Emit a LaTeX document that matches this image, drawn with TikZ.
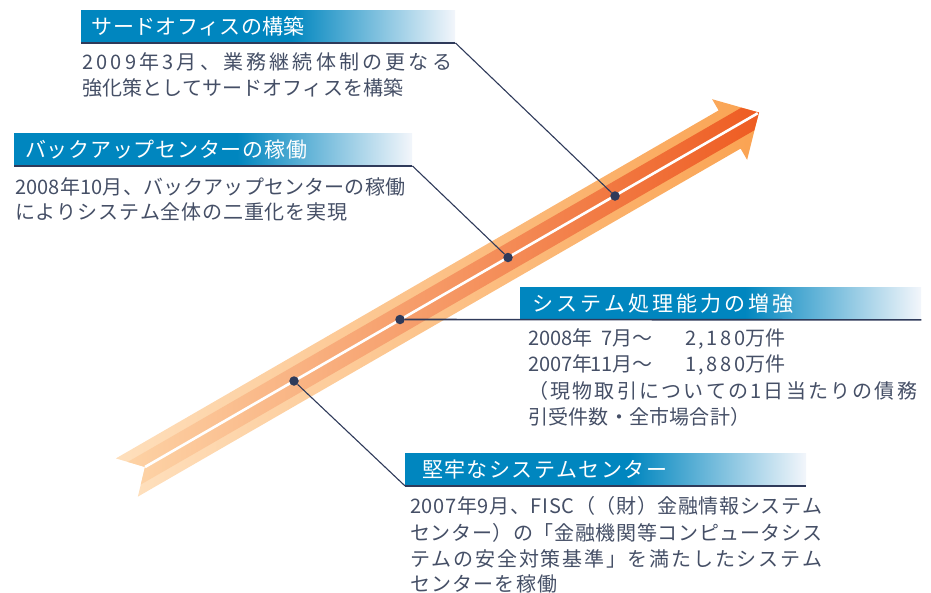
\documentclass[tikz,border=0pt]{standalone}
\usepackage{fontspec}
\newfontfamily\jp{Noto Sans CJK JP}
\definecolor{tblue}{HTML}{0086BF}
\definecolor{tfade}{HTML}{F3F6FB}
\definecolor{navy}{HTML}{2F3A5A}
\definecolor{bodytext}{HTML}{454F66}
\definecolor{aOutL}{HTML}{FEDFBC}
\definecolor{aOutM}{HTML}{FCBF82}
\definecolor{aOutR}{HTML}{FAA352}
\definecolor{aInL}{HTML}{FDD2A5}
\definecolor{aInM}{HTML}{F6A06C}
\definecolor{aInR}{HTML}{EE5C22}
\pgfdeclarehorizontalshading{titleshade}{100bp}{color(0bp)=(tblue); color(25bp)=(tblue); color(53bp)=(tblue); color(75bp)=(tfade); color(100bp)=(tfade)}
\ExplSyntaxOn
\cs_new_protected:Npn \fitline #1#2
  {
    \hbox_to_wd:nn {#1}
      {
        \tl_map_inline:nn {#2} { ##1 \hfil }
        \unskip
      }
  }
\ExplSyntaxOff
\begin{document}
\begin{tikzpicture}[x=1pt,y=-1pt,
  titlebox/.style={shading=titleshade, draw=none, inner sep=0pt, anchor=north west},
  ttext/.style={font=\jp\fontsize{21}{24}\selectfont, text=white, inner sep=0pt, anchor=west},
  btext/.style={font=\jp\fontsize{20}{24}\selectfont, text=bodytext, inner sep=0pt, anchor=base west},
  dot/.style={circle, fill=navy, inner sep=0pt, minimum size=9.5pt},
  uline/.style={draw=navy, line width=1.6pt},
  conn/.style={draw=navy, line width=1.1pt},
  outer/.style={left color=aOutL, middle color=aOutM, right color=aOutR},
  inner/.style={left color=aInL, middle color=aInM, right color=aInR}]
\useasboundingbox (0,0) rectangle (931,592);

% ---- arrow ----
\coordinate (tu) at (115.9,458.4);
\coordinate (tn) at (145,467);
\coordinate (tl) at (137.9,496.6);
\coordinate (bur) at (718.6,110.4);
\coordinate (bu) at (712.1,99.2);
\coordinate (tip) at (759,112.5);
\coordinate (bl) at (747.1,159.8);
\coordinate (blr) at (740.6,148.6);
\coordinate (iu0) at (127.8,461.9);
\coordinate (iu1) at (741.3,107.7);
\coordinate (il0) at (140.8,484.5);
\coordinate (il1) at (754.3,130.3);
\path[outer] (tn) -- (tu) -- (bur) -- (bu) -- (tip) -- cycle;
\path[outer] (tn) -- (tl) -- (blr) -- (bl) -- (tip) -- cycle;
\path[inner] (tn) -- (iu0) -- (iu1) -- (tip) -- cycle;
\path[inner] (tn) -- (il0) -- (il1) -- (tip) -- cycle;
\draw[white, line width=2.6pt, shorten >=1.5pt] (tn) -- (tip);

% ---- dots ----
\node[dot] (d1) at (615,196) {};
\node[dot] (d2) at (508,257.5) {};
\node[dot] (d3) at (400,319.5) {};
\node[dot] (d4) at (294,381) {};

% ---- box 1 ----
\node[titlebox, minimum width=374pt, minimum height=32.5pt] (b1) at (81,10) {};
\node[ttext] (t1) at (91.7,26.5) {\fitline{213pt}{サードオフィスの構築}};
\draw[uline] (b1.south west) -- (b1.south east);
\draw[conn] (b1.south east) -- (d1);
\node[btext] (l11) at (82,69.3) {\fitline{370pt}{2009年3月、業務継続体制の更なる}};
\node[btext] (l12) at (82,95.3) {\fitline{321pt}{強化策としてサードオフィスを構築}};

% ---- box 2 ----
\node[titlebox, minimum width=398pt, minimum height=32.2pt] (b2) at (14,133.3) {};
\node[ttext] (t2) at (25,149.5) {\fitline{282pt}{バックアップセンターの稼働}};
\draw[uline] (b2.south west) -- (b2.south east);
\draw[conn] (b2.south east) -- (d2);
\node[btext] (l21) at (15,194.3) {\fitline{390pt}{2008年10月、バックアップセンターの稼働}};
\node[btext] (l22) at (15,219.5) {\fitline{332pt}{によりシステム全体の二重化を実現}};

% ---- box 3 ----
\node[titlebox, minimum width=401pt, minimum height=32.5pt] (b3) at (520,287) {};
\node[ttext] (t3) at (532,303.5) {\fitline{261pt}{システム処理能力の増強}};
\draw[uline] (d3) -- (b3.south east);
\node[btext] (l31) at (528,345.6) {\hbox{\fitline{44pt}{2008}年\makebox[20pt][r]{7}月～\hspace{33pt}\fitline{60pt}{2,180}万件}};
\node[btext] (l32) at (528,371.9) {\hbox{\fitline{44pt}{2007}年\makebox[20pt][r]{11}月～\hspace{33pt}\fitline{60pt}{1,880}万件}};
\node[btext] (l33) at (528,398.2) {\fitline{389pt}{（現物取引についての1日当たりの債務}};
\node[btext] (l34) at (528,424.5) {\fitline{222pt}{引受件数・全市場合計）}};

% ---- box 4 ----
\node[titlebox, minimum width=401pt, minimum height=32.5pt] (b4) at (405,453) {};
\node[ttext] (t4) at (422,469.5) {\fitline{245pt}{堅牢なシステムセンター}};
\draw[uline] (b4.south west) -- (b4.south east);
\draw[conn] (d4) -- (b4.south west);
\node[btext] (l41) at (410,513.6) {\fitline{412pt}{2007年9月、FISC（（財）金融情報システム}};
\node[btext] (l42) at (410,540) {\fitline{412pt}{センター）の「金融機関等コンピュータシス}};
\node[btext] (l43) at (410,566) {\fitline{412pt}{テムの安全対策基準」を満たしたシステム}};
\node[btext] (l44) at (410,591) {\fitline{147pt}{センターを稼働}};
\end{tikzpicture}
\end{document}
